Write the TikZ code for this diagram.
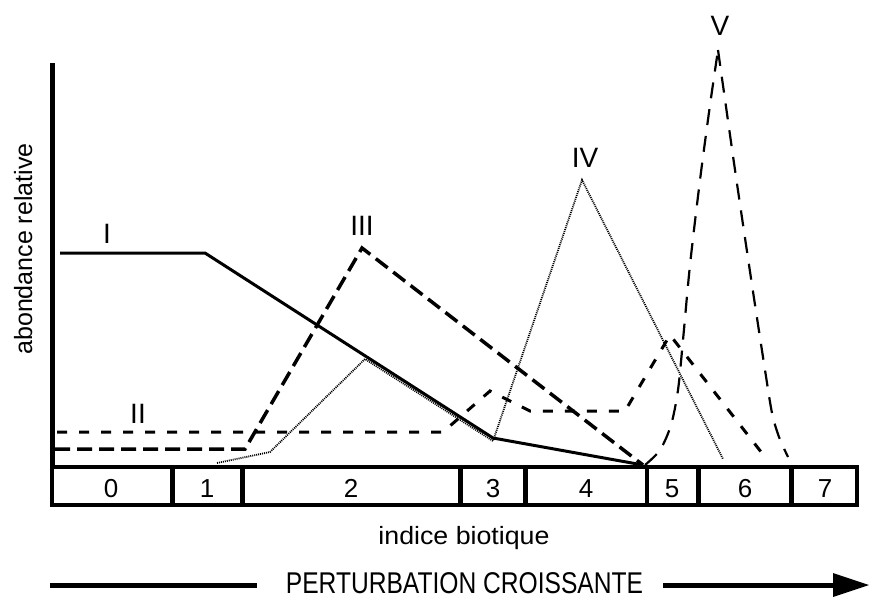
\documentclass[tikz,border=0pt]{standalone}
\usepackage{fontspec}
\setmainfont{Liberation Sans}
\begin{document}
\begin{tikzpicture}[x=1pt,y=-1pt,
  lbl/.style={inner sep=0pt, anchor=base, font=\fontsize{28}{30}\selectfont},
  digit/.style={inner sep=0pt, anchor=base, font=\fontsize{26}{28}\selectfont},
  curveI/.style={line width=3pt, line join=miter},
  curveII/.style={line width=3pt, dash pattern=on 10pt off 12pt},
  curveIII/.style={line width=3.5pt, dash pattern=on 15pt off 7pt},
  curveIV/.style={line width=1.8pt, dash pattern=on 1pt off 1pt},
  curveV/.style={line width=2.2pt, dash pattern=on 16pt off 11pt},
  framebox/.style={line width=4.5pt},
  arrowline/.style={line width=5pt}
]
\clip (0,0) rectangle (869,598);
\fill[white] (0,0) rectangle (869,598);

% curves
\draw[curveI] (60,253) -- (205,253) -- (493,438) -- (643,465);
\draw[curveII] (57,432) -- (443,432) -- (490,391) -- (530,411) -- (625,411) -- (670,335) -- (765,457);
\draw[curveIII] (55,449) -- (245,449) -- (362,248) -- (643,465);
\draw[curveIV] (217,463) -- (270,452) -- (365,359) -- (493,441) -- (582,180) -- (723,459);
\draw[curveV] plot[smooth, tension=0.5] coordinates {(645,465) (660,450) (671,425) (678,390) (683,340) (690,265) (700,180) (710,105) (718,50)};
\draw[curveV] plot[smooth, tension=0.5] coordinates {(718,50) (735,170) (752,285) (765,370) (772,413) (779,437) (788,457)};

% axis and index bar
\coordinate (axtop) at (52,63);
\coordinate (axbot) at (52,467);
\draw[framebox, line width=5pt] (axtop) -- (axbot);
\draw[framebox] (52,467) rectangle (857,505);
\foreach \xd in {172.5,242.5,460.5,525.5,647,698.5,791.5}
  \draw[framebox] (\xd,467) -- (\xd,505);

% digits
\node[digit] (d0) at (111,497) {0};
\node[digit] (d1) at (207,497) {1};
\node[digit] (d2) at (351,497) {2};
\node[digit] (d3) at (493,497) {3};
\node[digit] (d4) at (586,497) {4};
\node[digit] (d5) at (672,497) {5};
\node[digit] (d6) at (745,497) {6};
\node[digit] (d7) at (825,497) {7};

% curve labels
\node[lbl] (lI) at (107,243) {I};
\node[lbl] (lII) at (138,423) {II};
\node[lbl] (lIII) at (362,235) {III};
\node[lbl] (lIV) at (585,167) {IV};
\node[lbl] (lV) at (720,35) {V};

% axis titles
\node[inner sep=0pt, anchor=base, rotate=90, font=\fontsize{25}{27}\selectfont] (ytitle) at (32,249) {abondance relative};
\node[inner sep=0pt, anchor=base, font=\fontsize{25}{27}\selectfont] (xtitle) at (464,544) {\scalebox{1.07}[1]{indice biotique}};

% perturbation arrow
\node[inner sep=0pt, anchor=base, font=\fontsize{30}{32}\selectfont] (pert) at (464.5,593) {\scalebox{0.82}[1]{PERTURBATION CROISSANTE}};
\coordinate (a1) at (50,585);
\coordinate (a1e) at (257,585);
\coordinate (a2s) at (663,585);
\coordinate (a2) at (836,585);
\draw[arrowline] (a1) -- (a1e);
\draw[arrowline] (a2s) -- (a2);
\fill (833,573) -- (869,585) -- (833,597) -- cycle;
\end{tikzpicture}
\end{document}
